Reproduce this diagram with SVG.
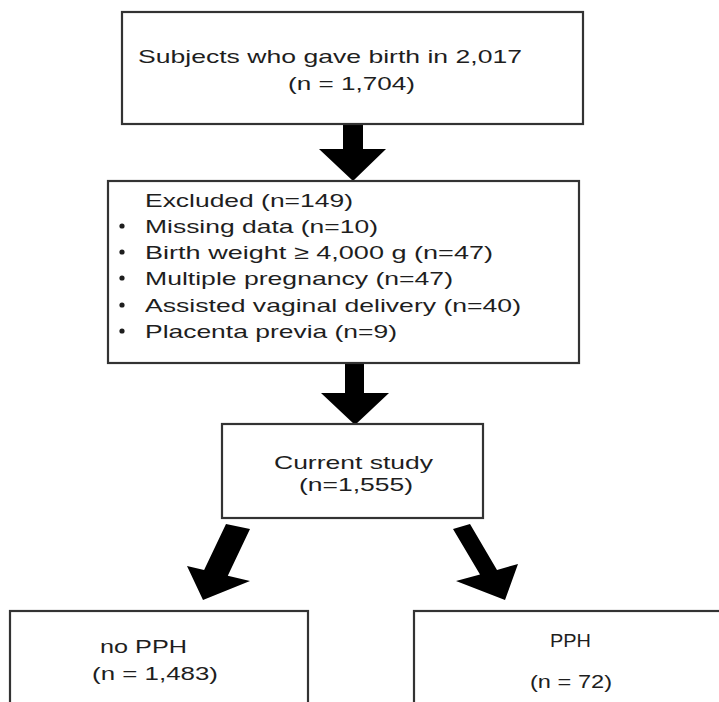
<svg xmlns="http://www.w3.org/2000/svg" width="719" height="702" viewBox="0 0 719 702">
<style>
.box{fill:#fff;stroke:#333;stroke-width:2.2}
.t{font-family:"Liberation Sans",Arial,sans-serif;font-size:19px;fill:#1e1e1e}
.arr{fill:#000}
</style>
<rect x="0" y="0" width="719" height="702" fill="#fff"/>
<g id="connectors">
<path class="arr" d="M343,124 H363 V149 H386 L353,181 L319,149 H343 Z"/>
<path class="arr" d="M345,363 H364 V393 H389 L355,425 L321,393 H345 Z"/>
<path class="arr" d="M226,524 L250,529 L227.8,575.7 L250,581 L203,600 L187,566 L204.1,570.1 Z"/>
<path class="arr" d="M453,529 L470,524 L497,570 L518,564 L505,600 L456,581 L480,574.5 Z"/>
</g>
<g id="n1">
<rect class="box" x="122" y="12" width="461" height="112"/>
<text class="t" x="138" y="63" textLength="384" lengthAdjust="spacingAndGlyphs">Subjects who gave birth in 2,017</text>
<text class="t" x="288" y="90" textLength="127" lengthAdjust="spacingAndGlyphs">(n = 1,704)</text>
</g>
<g id="n2">
<rect class="box" x="108" y="181" width="471" height="182"/>
<text class="t" x="145" y="207" textLength="208" lengthAdjust="spacingAndGlyphs">Excluded (n=149)</text>
<circle cx="122" cy="226" r="2.6" fill="#1e1e1e"/>
<text class="t" x="145" y="233" textLength="233" lengthAdjust="spacingAndGlyphs">Missing data (n=10)</text>
<circle cx="122" cy="252" r="2.6" fill="#1e1e1e"/>
<text class="t" x="145" y="259" textLength="348" lengthAdjust="spacingAndGlyphs">Birth weight ≥ 4,000 g  (n=47)</text>
<circle cx="122" cy="278" r="2.6" fill="#1e1e1e"/>
<text class="t" x="145" y="285" textLength="308" lengthAdjust="spacingAndGlyphs">Multiple pregnancy (n=47)</text>
<circle cx="122" cy="305" r="2.6" fill="#1e1e1e"/>
<text class="t" x="145" y="312" textLength="376" lengthAdjust="spacingAndGlyphs">Assisted vaginal delivery (n=40)</text>
<circle cx="122" cy="331" r="2.6" fill="#1e1e1e"/>
<text class="t" x="145" y="338" textLength="252" lengthAdjust="spacingAndGlyphs">Placenta previa (n=9)</text>
</g>
<g id="n3">
<rect class="box" x="222" y="424" width="261" height="94"/>
<text class="t" x="274" y="469" textLength="159" lengthAdjust="spacingAndGlyphs">Current study</text>
<text class="t" x="299" y="491" textLength="114" lengthAdjust="spacingAndGlyphs">(n=1,555)</text>
</g>
<g id="n4">
<rect class="box" x="10" y="611" width="298" height="100"/>
<text class="t" x="100" y="653" textLength="87" lengthAdjust="spacingAndGlyphs">no PPH</text>
<text class="t" x="92" y="680" textLength="126" lengthAdjust="spacingAndGlyphs">(n = 1,483)</text>
</g>
<g id="n5">
<rect class="box" x="414" y="611" width="320" height="100"/>
<text class="t" x="550" y="647" textLength="41" lengthAdjust="spacingAndGlyphs">PPH</text>
<text class="t" x="530" y="688" textLength="82" lengthAdjust="spacingAndGlyphs">(n = 72)</text>
</g>
</svg>
